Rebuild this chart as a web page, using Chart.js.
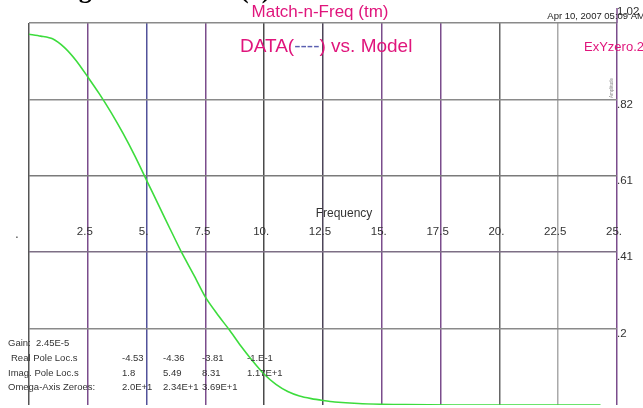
<!DOCTYPE html>
<html lang="en">
<head>
<meta charset="UTF-8">
<title>Match-n-Freq</title>
<script src="https://cdn.jsdelivr.net/npm/chart.js"></script>
<style>
  html, body { margin: 0; padding: 0; background: #fff; }
  #wrap { position: relative; width: 643px; height: 408px; }
</style>
</head>
<body>
<div id="wrap">
  <canvas id="freqChart" width="643" height="408"></canvas>
</div>

<script>
// frequency axis points and model amplitude
const freq = [0, 0.5, 1, 1.5, 2, 2.5, 3, 3.5, 4, 4.5, 5, 5.5, 6, 6.5, 7, 7.5, 8, 8.5, 9, 9.5, 10, 10.5, 11, 11.5, 12, 12.5, 13, 14, 15, 16, 18, 20, 22, 24.3];
const amplitude = [0.99, 0.985, 0.978, 0.955, 0.92, 0.876, 0.83, 0.78, 0.725, 0.665, 0.60, 0.535, 0.47, 0.406, 0.348, 0.288, 0.243, 0.202, 0.158, 0.118, 0.082, 0.055, 0.036, 0.024, 0.017, 0.012, 0.008, 0.004, 0.002, 0.001, 0, 0, 0, 0];

// tick values and labels
const xTicks = [0, 2.5, 5, 7.5, 10, 12.5, 15, 17.5, 20, 22.5, 25];
const xTickLabels = ['', '2.5', '5.', '7.5', '10.', '12.5', '15.', '17.5', '20.', '22.5', '25.'];
const yTicks = [0, 0.204, 0.408, 0.612, 0.816, 1.02];
const yTickLabels = ['', '.2', '.41', '.61', '.82', '1.02'];

// pole / zero table printed in the corner
const gainText = 'Gain:  2.45E-5';
const realPoles = ['-4.53', '-4.36', '-3.81', '-1.E-1'];
const imagPoles = ['1.8', '5.49', '8.31', '1.17E+1'];
const omegaZeroes = ['2.0E+1', '2.34E+1', '3.69E+1'];

const vGridColors = ['#555', '#7b4d8c', '#52529a', '#7b4d8c', '#4a4a4a', '#4d4458', '#7b4d8c', '#7b4d8c', '#666', '#aaa', '#7b4d8c'];
const hGridColors = ['rgba(0,0,0,0)', '#8a8a8a', '#7d6f85', '#7a7a7a', '#8a8a8a', '#8a8a8a'];

const magenta = '#e0157c';

const overlay = {
  id: 'overlay',
  afterDraw(chart) {
    const ctx = chart.ctx;
    const xs = chart.scales.x;
    const ys = chart.scales.y;
    const area = chart.chartArea;
    ctx.save();

    // right border reaches above the top line
    ctx.strokeStyle = '#7b4d8c';
    ctx.lineWidth = 1.5;
    ctx.beginPath();
    ctx.moveTo(xs.getPixelForValue(25), area.top - 15);
    ctx.lineTo(xs.getPixelForValue(25), area.top);
    ctx.stroke();

    // cut-off caption above the chart, only descenders show
    ctx.fillStyle = '#000';
    ctx.font = 'bold 26px "Liberation Serif", serif';
    ctx.textBaseline = 'alphabetic';
    ctx.textAlign = 'left';
    ctx.fillText('ing', 57, -2);
    ctx.fillText('(a)', 240, -2);

    // titles
    ctx.fillStyle = magenta;
    ctx.textBaseline = 'middle';
    ctx.textAlign = 'center';
    ctx.font = '17px "Liberation Sans", Arial, sans-serif';
    ctx.fillText('Match-n-Freq (tm)', 320, 12);

    ctx.font = '19px "Liberation Sans", Arial, sans-serif';
    ctx.textAlign = 'left';
    const parts = [['DATA(', magenta], ['----', '#5a5fb0'], [') vs. Model', magenta]];
    let px = 240;
    parts.forEach(([t, c]) => {
      ctx.fillStyle = c;
      ctx.fillText(t, px, 47);
      px += ctx.measureText(t).width;
    });

    ctx.fillStyle = magenta;
    ctx.font = '13px "Liberation Sans", Arial, sans-serif';
    ctx.fillText('ExYzero.2', 584, 47);

    ctx.fillStyle = '#222';
    ctx.font = '9.5px "Liberation Sans", Arial, sans-serif';
    ctx.textAlign = 'right';
    ctx.fillText('Apr 10, 2007 05:09 AM', 645, 16);

    // x tick labels sit across the middle of the plot
    ctx.fillStyle = '#333';
    ctx.font = '11.5px "Liberation Sans", Arial, sans-serif';
    ctx.textAlign = 'center';
    xTicks.forEach((v, i) => {
      if (!xTickLabels[i]) return;
      ctx.fillText(xTickLabels[i], xs.getPixelForValue(v) - 3, 232);
    });
    ctx.font = '12px "Liberation Sans", Arial, sans-serif';
    ctx.fillText('Frequency', 344, 214);
    ctx.fillText('.', 17, 235);

    // y tick labels on the right
    ctx.font = '11.5px "Liberation Sans", Arial, sans-serif';
    ctx.textAlign = 'left';
    yTicks.forEach((v, i) => {
      if (!yTickLabels[i]) return;
      const py = i === yTicks.length - 1 ? 12 : ys.getPixelForValue(v) + 5;
      ctx.fillText(yTickLabels[i], xs.getPixelForValue(25), py);
    });

    // tiny rotated axis name
    ctx.save();
    ctx.translate(612, 88);
    ctx.rotate(-Math.PI / 2);
    ctx.font = '4.5px "Liberation Sans", Arial, sans-serif';
    ctx.fillStyle = '#888';
    ctx.textAlign = 'center';
    ctx.fillText('Amplitude', 0, 0);
    ctx.restore();

    // pole / zero table
    ctx.fillStyle = '#333';
    ctx.font = '9.5px "Liberation Sans", Arial, sans-serif';
    const cols = [122, 163, 202, 247];
    ctx.fillText(gainText, 8, 343);
    ctx.fillText('Real Pole Loc.s', 11, 358);
    ctx.fillText('Imag. Pole Loc.s', 8, 373);
    ctx.fillText('Omega-Axis Zeroes:', 8, 387);
    realPoles.forEach((t, i) => ctx.fillText(t, cols[i], 358));
    imagPoles.forEach((t, i) => ctx.fillText(t, cols[i], 373));
    omegaZeroes.forEach((t, i) => ctx.fillText(t, cols[i], 387));

    ctx.restore();
  }
};

new Chart(document.getElementById('freqChart'), {
  type: 'line',
  data: {
    datasets: [{
      label: 'Model',
      data: freq.map((f, i) => ({ x: f, y: amplitude[i] })),
      borderColor: '#3ddc3d',
      borderWidth: 1.6,
      pointRadius: 0,
      tension: 0.25,
      fill: false
    }]
  },
  options: {
    responsive: false,
    animation: false,
    layout: { padding: { left: 29, top: 23, right: 26, bottom: 3 } },
    plugins: { legend: { display: false }, tooltip: { enabled: false } },
    scales: {
      x: {
        type: 'linear',
        min: 0,
        max: 25,
        afterBuildTicks: s => { s.ticks = xTicks.map(v => ({ value: v })); },
        ticks: { display: false },
        border: { display: false },
        grid: {
          drawTicks: false,
          lineWidth: 1.5,
          color: c => vGridColors[c.index] || '#777'
        }
      },
      y: {
        min: 0,
        max: 1.02,
        afterBuildTicks: s => { s.ticks = yTicks.map(v => ({ value: v })); },
        ticks: { display: false },
        border: { display: false },
        grid: {
          drawTicks: false,
          lineWidth: 1.5,
          color: c => hGridColors[c.index] || '#888'
        }
      }
    }
  },
  plugins: [overlay]
});
</script>
</body>
</html>
